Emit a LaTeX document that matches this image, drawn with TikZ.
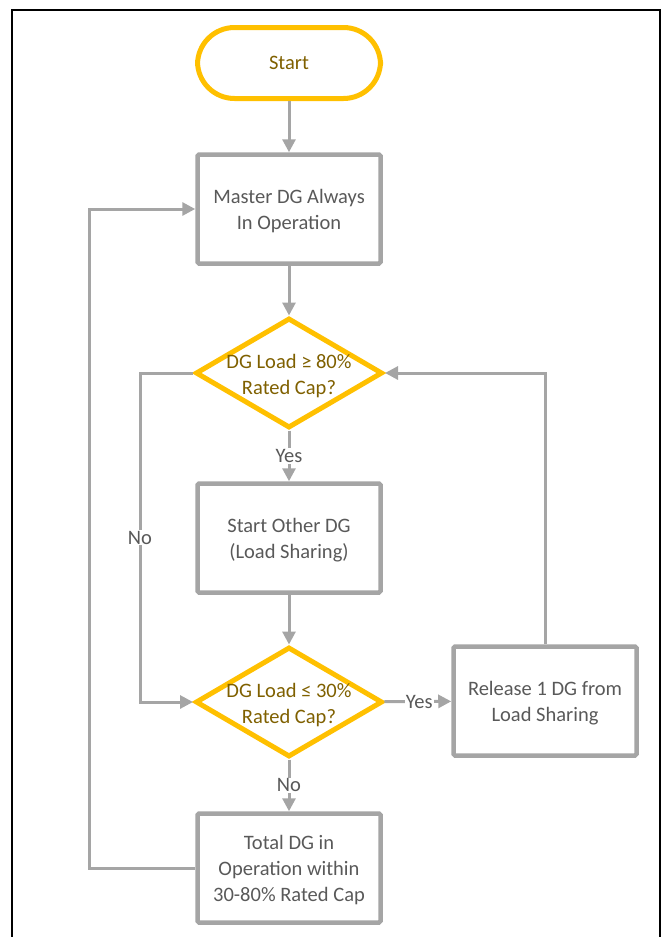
\documentclass[tikz,border=0pt]{standalone}
\usepackage{fontspec}
\setmainfont{Carlito}
\usepackage{xcolor}
\usepackage{tikz}
\usetikzlibrary{arrows.meta,positioning,calc,shapes.geometric}
\definecolor{ink}{HTML}{595959}
\definecolor{linegray}{HTML}{A5A5A5}
\definecolor{amber}{HTML}{FFC000}
\definecolor{gold}{HTML}{7F6000}
\tikzset{
  >={Triangle[length=13pt,width=13pt]},
  txt/.style={font=\fontsize{20.5}{26}\selectfont,align=center},
  terminal/.style={txt,text depth=0pt,draw=amber,line width=5pt,rounded corners=37pt,minimum width=183pt,minimum height=71pt,text=gold},
  stepbox/.style={txt,text depth=0pt,draw=linegray,line width=4.5pt,rounded corners=1.5pt,minimum width=183pt,minimum height=109pt,text=ink},
  decision/.style={diamond,draw=amber,line width=5pt,minimum width=187pt,minimum height=110pt,inner sep=0pt},
  dtext/.style={txt,text=gold,yshift=-3pt},
  flow/.style={->,line width=3pt,color=linegray},
  tag/.style={txt,text=ink,fill=white,inner sep=1pt},
}

\begin{document}
\begin{tikzpicture}[x=1pt,y=-1pt]
  \useasboundingbox (0,0) rectangle (666,937);
  % page frame
  \draw[line width=2pt] (12,945) -- (12,10) -- (660,10) -- (660,945);

  \node[terminal] (start) at (289,63) {Start};
  \node[stepbox] (master) at (289,209) {Master DG Always\\In Operation};
  \node[decision,label={[dtext]center:DG Load ≥ 80\%\\Rated Cap?}] (ovr) at (289,373) {};
  \node[stepbox] (share) at (289,538) {Start Other DG\\(Load Sharing)};
  \node[decision,label={[dtext]center:DG Load ≤ 30\%\\Rated Cap?}] (und) at (289,702) {};
  \node[stepbox] (release) at (545,701) {Release 1 DG from\\Load Sharing};
  \node[stepbox] (total) at (289,868) {Total DG in\\Operation within\\30-80\% Rated Cap};

  \draw[flow] (start) -- (master);
  \draw[flow] (master) -- (ovr);
  \draw[flow] (ovr) -- node[tag] {Yes} (share);
  \draw[flow] (share) -- (und);
  \draw[flow] (und) -- node[tag] {No} (total);
  \draw[flow] (und) -- node[tag,pos=0.52] {Yes} (release);
  \draw[flow] (release) |- (ovr);
  \draw[flow] (ovr.west) -- ++(-53,0) |- node[tag,pos=0.25] {No} (und.west);
  \draw[flow] (total.west) -- ++(-106,0) |- (master.west);
\end{tikzpicture}
\end{document}
